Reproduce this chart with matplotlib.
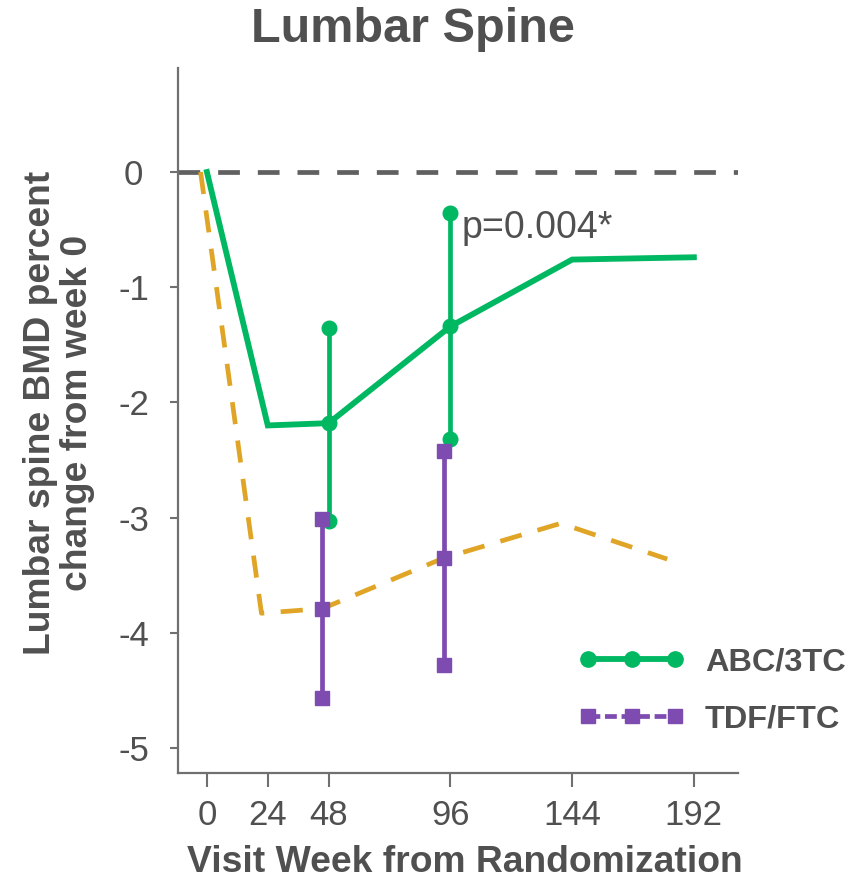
import matplotlib
matplotlib.use("Agg")
import matplotlib.pyplot as plt
from matplotlib.lines import Line2D

plt.rcParams['font.family'] = ['Liberation Sans', 'DejaVu Sans']
plt.rcParams['axes.unicode_minus'] = False

# ---------------- data ----------------
abc_weeks = [0, 24, 48, 96, 144, 192]
abc_mean = [0.0, -2.2, -2.18, -1.34, -0.76, -0.74]
abc_bar_weeks = [48, 96]
abc_bar_mid = [-2.18, -1.34]
abc_bar_lo = [-3.03, -2.32]
abc_bar_hi = [-1.35, -0.36]

tdf_weeks = [-2.5, 21.5, 45.5, 93.5, 139.5, 181.5]
tdf_mean = [0.0, -3.83, -3.79, -3.35, -3.05, -3.36]
tdf_bar_weeks = [45.5, 93.5]
tdf_bar_mid = [-3.79, -3.35]
tdf_bar_lo = [-4.57, -4.28]
tdf_bar_hi = [-3.01, -2.42]

x_ticks = [0, 24, 48, 96, 144, 192]
y_ticks = [0, -1, -2, -3, -4, -5]

GREEN = '#00b862'
PURPLE = '#7e4bb0'
ORANGE = '#e0a526'
TEXT = '#505050'
AXIS = '#707070'

fig = plt.figure(figsize=(8.54, 8.82), dpi=100)
ax = fig.add_axes([178 / 854, 1 - 773 / 882, (738 - 178) / 854, (773 - 68) / 882])

# reference line at zero
ax.axhline(0, color='#606060', lw=3.4, dashes=[4.6, 3.8], zorder=1)

# TDF/FTC mean (dashed)
ax.plot(tdf_weeks, tdf_mean, color=ORANGE, lw=3.4, dashes=[4.7, 3.5], zorder=2)

# ABC/3TC mean
ax.plot(abc_weeks, abc_mean, color=GREEN, lw=4.2, zorder=3, solid_joinstyle='miter')

# error bars with markers at ends and middle
for w, m, lo, hi in zip(abc_bar_weeks, abc_bar_mid, abc_bar_lo, abc_bar_hi):
    ax.plot([w, w], [lo, hi], color=GREEN, lw=3.4, zorder=4)
    ax.plot([w, w, w], [lo, m, hi], 'o', color=GREEN, ms=10.5, zorder=4)

for w, m, lo, hi in zip(tdf_bar_weeks, tdf_bar_mid, tdf_bar_lo, tdf_bar_hi):
    ax.plot([w, w], [lo, hi], color=PURPLE, lw=3.4, zorder=5)
    ax.plot([w, w, w], [lo, m, hi], 's', color=PURPLE, ms=10, zorder=5)

ax.text(100.5, -0.49, 'p=0.004*', fontsize=27, color=TEXT, ha='left', va='center')

ax.set_xlim(-11.4, 209.4)
ax.set_ylim(-5.217, 0.903)

ax.set_xticks(x_ticks)
ax.set_xticklabels([str(t) for t in x_ticks])
ax.set_yticks(y_ticks)
ax.set_yticklabels([str(t) for t in y_ticks])

for side in ['top', 'right']:
    ax.spines[side].set_visible(False)
for side in ['left', 'bottom']:
    ax.spines[side].set_color(AXIS)
    ax.spines[side].set_linewidth(1.6)

ax.tick_params(axis='x', length=10, width=1.5, color=AXIS, labelsize=25, labelcolor=TEXT, pad=9)
ax.tick_params(axis='y', length=6, width=1.5, color=AXIS, labelsize=25, labelcolor=TEXT, pad=26)
for lab in ax.get_yticklabels():
    lab.set_horizontalalignment('center')

# titles and labels
fig.text(413 / 854, 1 - 30 / 882, 'Lumbar Spine', fontsize=35, fontweight='bold',
         color=TEXT, ha='center', va='center')
fig.text(465 / 854, 1 - 862 / 882, 'Visit Week from Randomization', fontsize=26.8,
         fontweight='bold', color=TEXT, ha='center', va='center')
fig.text(59 / 854, 1 - 413 / 882, 'Lumbar spine BMD percent\nchange from week 0', fontsize=26.8,
         fontweight='bold', color=TEXT, ha='center', va='center', rotation=90,
         multialignment='center', linespacing=1.1)

# legend
handles = [
    Line2D([], [], color=GREEN, lw=4.2, marker='o', ms=11),
    Line2D([], [], color=PURPLE, lw=3.4, marker='s', ms=10, dashes=[2.5, 1.0]),
]
leg = ax.legend(handles, ['ABC/3TC', 'TDF/FTC'], loc='center left',
                bbox_to_anchor=(578 / 854, 1 - 691 / 882), bbox_transform=fig.transFigure,
                frameon=False, numpoints=3, handlelength=3.3, handletextpad=0.6,
                labelspacing=0.85, borderpad=0, borderaxespad=0,
                prop={'size': 23.4, 'weight': 'bold'})
for t in leg.get_texts():
    t.set_color(TEXT)

fig.savefig('out.png', dpi=100)
